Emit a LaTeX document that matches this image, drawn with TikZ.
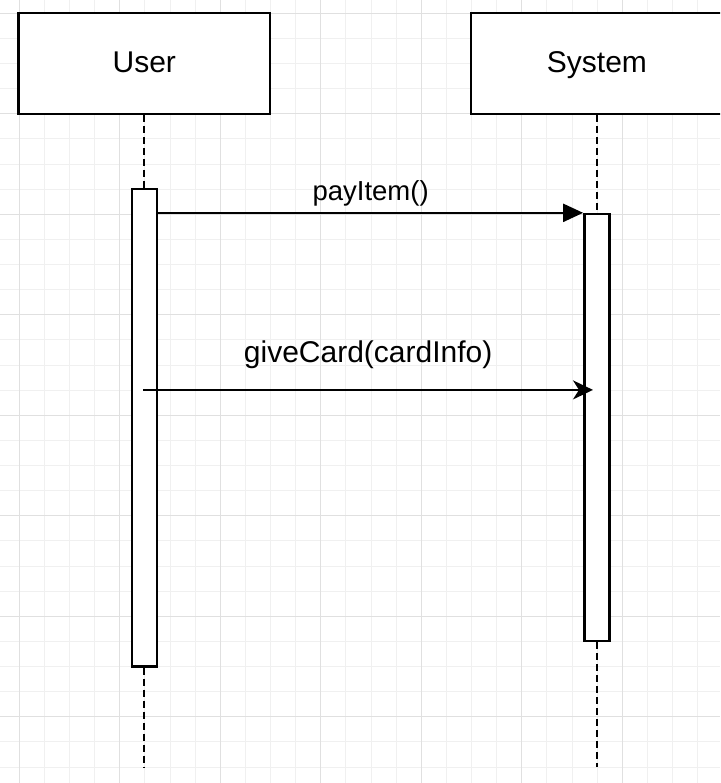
\documentclass[tikz,border=0pt]{standalone}
\usepackage{fontspec}
\setmainfont{Liberation Sans}
\usetikzlibrary{arrows.meta}
\begin{document}
\begin{tikzpicture}[x=1pt,y=-1pt,
  minorgrid/.style={line width=1pt,draw=black!6},
  majorgrid/.style={line width=1.2pt,draw=black!12},
  headbox/.style={draw=black,fill=white,line width=2.4pt,minimum width=251.25pt,minimum height=100.5pt,inner sep=0pt,
    font=\fontsize{30}{36}\selectfont,text height=21.5pt,text depth=4pt},
  actbox/.style={draw=black,fill=white,line width=2.4pt,minimum width=25.125pt,inner sep=0pt},
  lifeline/.style={line width=2.2pt,dash pattern=on 7pt off 4pt},
  msgfilled/.style={line width=2.2pt,-{Triangle[length=20pt,width=18pt]}},
  msgopen/.style={line width=2.2pt,-{Stealth[length=20pt,width=19pt,inset=6pt]}},
  lbl/.style={anchor=base,inner sep=0pt}
]
\useasboundingbox (0,0) rectangle (720,783);
\clip (0,0) rectangle (720,783);
\fill[white] (0,0) rectangle (720,783);
% grid
\foreach \k in {0,...,27} {\draw[minorgrid] ({19.3+\k*25.125},0) -- ++(0,783);}
\foreach \k in {0,...,30} {\draw[minorgrid] (0,{13.3+\k*25.125}) -- ++(720,0);}
\foreach \k in {0,4,...,24} {\draw[majorgrid] ({19.3+\k*25.125},0) -- ++(0,783);}
\foreach \k in {0,4,...,28} {\draw[majorgrid] (0,{13.3+\k*25.125}) -- ++(720,0);}
% heads
\node[headbox] (user) at (144.3,63.55) {User};
\node[headbox] (sys) at (596.9,63.55) {System};
% activation bars
\node[actbox,minimum height=477.4pt] (uact) at (144.3,427.6) {};
\node[actbox,minimum height=427.1pt] (sact) at (596.9,427.6) {};
% lifeline ends
\coordinate (uend) at (144.3,767);
\coordinate (send) at (596.9,767);
\draw[lifeline] (user.south) -- (uact.north);
\draw[lifeline] (uact.south) -- (uend);
\draw[lifeline] (sys.south) -- (sact.north);
\draw[lifeline] (sact.south) -- (send);
% messages
\draw[msgfilled] (uact.east |- sact.north west) -- (sact.north west)
  node[lbl,pos=0.5,yshift=12.5pt,font=\fontsize{27.5}{33}\selectfont] {payItem()};
\coordinate (gcstart) at (143.3,389.9);
\coordinate (gcend) at (593,389.9);
\draw[msgopen] (gcstart) -- (gcend)
  node[lbl,pos=0.5,yshift=27.5pt,font=\fontsize{30}{36}\selectfont] {giveCard(cardInfo)};
\end{tikzpicture}
\end{document}
